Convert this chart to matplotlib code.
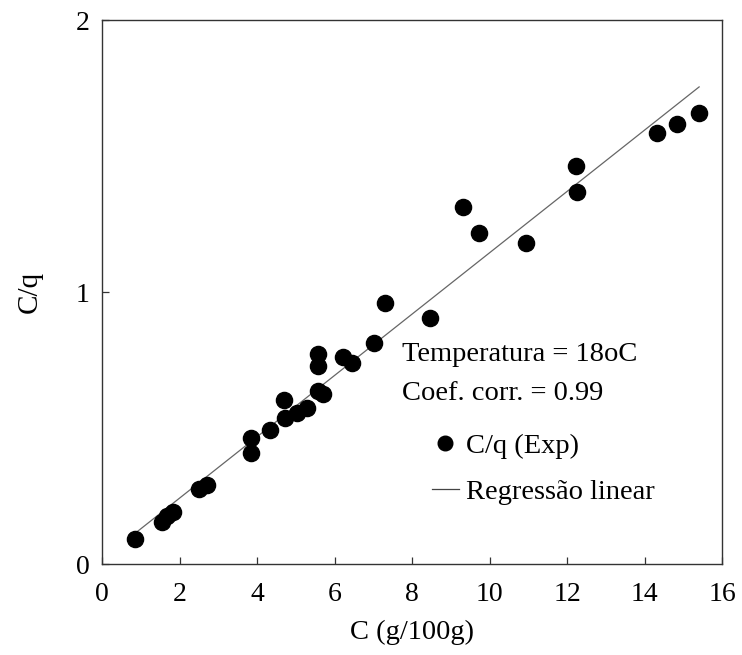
import matplotlib
matplotlib.use('Agg')

import matplotlib.pyplot as plt
from matplotlib.lines import Line2D

plt.rcParams['font.family'] = ['Liberation Serif', 'DejaVu Serif']

# pontos experimentais C (g/100g) e C/q
c_exp = [0.85, 1.55, 1.68, 1.83, 2.50, 2.71, 3.85, 3.85, 4.34, 4.72,
         4.70, 5.03, 5.29, 5.57, 5.70, 5.57, 5.57, 6.22, 6.45, 7.02,
         7.30, 8.46, 9.32, 9.73, 10.94, 12.23, 12.26, 14.32, 14.84, 15.41]
cq_exp = [0.092, 0.154, 0.176, 0.191, 0.276, 0.290, 0.463, 0.408, 0.493, 0.537,
          0.603, 0.555, 0.574, 0.636, 0.625, 0.728, 0.772, 0.761, 0.739, 0.813,
          0.960, 0.904, 1.313, 1.217, 1.180, 1.463, 1.368, 1.585, 1.618, 1.658]

# regressao linear (extremos da reta)
c_reg = [0.90, 15.41]
cq_reg = [0.118, 1.754]

xticks = [0, 2, 4, 6, 8, 10, 12, 14, 16]
yticks = [0, 1, 2]

fig = plt.figure(figsize=(7.42, 6.55), dpi=100)
ax = fig.add_axes([102 / 742, 91 / 655, 620 / 742, 544 / 655])

ax.plot(c_reg, cq_reg, color='#666666', lw=0.9)
ax.scatter(c_exp, cq_exp, s=135, color='black', zorder=3)

ax.set_xlim(0, 16)
ax.set_ylim(0, 2)
ax.set_xticks(xticks)
ax.set_yticks(yticks)
ax.tick_params(direction='in', length=5, width=0.9, labelsize=20, color='#333333')
ax.tick_params(axis='x', pad=13)
ax.tick_params(axis='y', pad=9)
for s in ax.spines.values():
    s.set_color('#333333')
    s.set_linewidth(1.0)

ax.set_xlabel('C (g/100g)', fontsize=20.5, labelpad=9)
ax.set_ylabel('C/q', fontsize=21, labelpad=24)

ax.text(0.484, 0.386, 'Temperatura = 18oC', transform=ax.transAxes,
        fontsize=20.5, va='center', ha='left')
ax.text(0.484, 0.3125, 'Coef. corr. = 0.99', transform=ax.transAxes,
        fontsize=20.5, va='center', ha='left')

handles = [Line2D([], [], ls='none', marker='o', color='black', markersize=10.5),
           Line2D([], [], color='#444444', lw=0.9)]
ax.legend(handles, ['C/q (Exp)', 'Regressão linear'], loc='upper left',
          bbox_to_anchor=(0.532, 0.24), frameon=False, fontsize=20.5,
          handlelength=0.95, handletextpad=0.25, labelspacing=0.7,
          borderpad=0, borderaxespad=0)

fig.savefig('out.png', dpi=100)
